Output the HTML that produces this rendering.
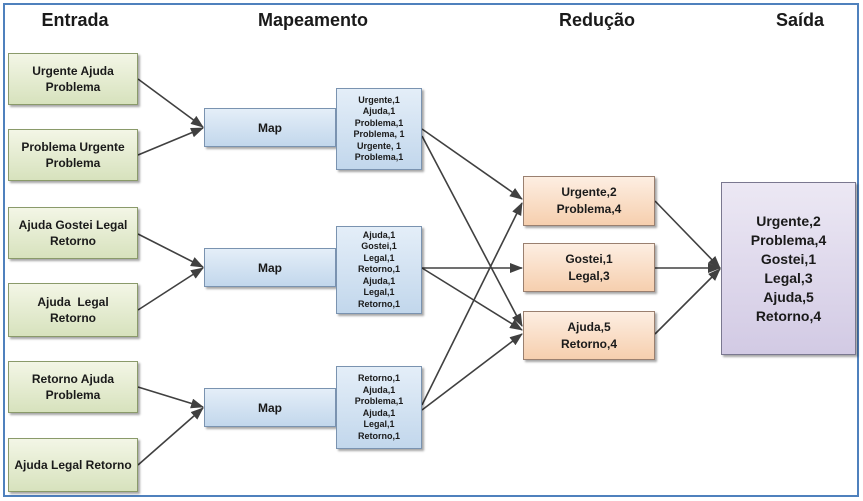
<!DOCTYPE html>
<html><head><meta charset="utf-8"><style>
body{margin:0;width:863px;height:501px;background:#fff;font-family:"Liberation Sans",sans-serif;position:relative;overflow:hidden}
.f{position:absolute;left:3px;top:3px;width:852px;height:490px;border:2px solid #4f81bd}
.b{position:absolute;box-sizing:border-box;display:flex;align-items:center;justify-content:center;text-align:center;font-weight:bold;color:#1a1a1a;box-shadow:2px 2px 2px rgba(0,0,0,.35)}
.i{left:8px;width:130px;font-size:12px;line-height:16px;background:linear-gradient(#f3f6e6,#d7e2bd);border:1px solid #8a9a6a}
.m{left:204px;width:132px;height:39px;font-size:12px;background:linear-gradient(#e4eef8,#c2d7ec);border:1px solid #7a93b0}
.l{left:336px;width:86px;font-size:9px;line-height:11.5px;background:linear-gradient(#e4eef8,#c2d7ec);border:1px solid #7a93b0}
.r{left:523px;width:132px;font-size:12px;line-height:17px;background:linear-gradient(#fdeee2,#f6cfae);border:1px solid #9a8070}
.o{left:721px;top:182px;width:135px;height:173px;font-size:14px;line-height:19px;background:linear-gradient(#ece8f4,#d2cae4);border:1px solid #7a7890}
.t{position:absolute;top:10px;font-size:18px;font-weight:bold;color:#1a1a1a;transform:translateX(-50%)}
svg{position:absolute;left:0;top:0}
</style></head><body>
<div class="f"></div>
<div class="t" style="left:75px">Entrada</div>
<div class="t" style="left:313px">Mapeamento</div>
<div class="t" style="left:597px">Redução</div>
<div class="t" style="left:800px">Saída</div>
<svg width="863" height="501"><defs><marker id="a" markerWidth="13" markerHeight="10" refX="12" refY="5" orient="auto" markerUnits="userSpaceOnUse"><path d="M0,0L13,5L0,10z" fill="#404040"/></marker></defs>
<g stroke="#404040" stroke-width="1.6" marker-end="url(#a)">
<line x1="138" y1="79" x2="203" y2="127"/><line x1="138" y1="155" x2="203" y2="128"/>
<line x1="138" y1="234" x2="203" y2="267"/><line x1="138" y1="310" x2="203" y2="268"/>
<line x1="138" y1="387" x2="203" y2="407"/><line x1="138" y1="465" x2="203" y2="408"/>
<line x1="422" y1="129" x2="522" y2="199"/><line x1="422" y1="136" x2="522" y2="326"/>
<line x1="422" y1="268" x2="522" y2="268"/><line x1="422" y1="268" x2="522" y2="330"/>
<line x1="422" y1="405" x2="522" y2="203"/><line x1="422" y1="410" x2="522" y2="334"/>
<line x1="655" y1="201" x2="720" y2="268"/><line x1="655" y1="268" x2="720" y2="268"/><line x1="655" y1="334" x2="720" y2="269"/>
</g></svg>
<div class="b i" style="top:53px;height:52px">Urgente Ajuda<br>Problema</div>
<div class="b i" style="top:129px;height:52px">Problema Urgente<br>Problema</div>
<div class="b i" style="top:207px;height:52px">Ajuda Gostei Legal<br>Retorno</div>
<div class="b i" style="top:283px;height:54px">Ajuda&nbsp; Legal<br>Retorno</div>
<div class="b i" style="top:361px;height:52px">Retorno Ajuda<br>Problema</div>
<div class="b i" style="top:438px;height:54px">Ajuda Legal Retorno</div>
<div class="b m" style="top:108px">Map</div>
<div class="b m" style="top:248px">Map</div>
<div class="b m" style="top:388px">Map</div>
<div class="b l" style="top:88px;height:82px">Urgente,1<br>Ajuda,1<br>Problema,1<br>Problema, 1<br>Urgente, 1<br>Problema,1</div>
<div class="b l" style="top:226px;height:88px">Ajuda,1<br>Gostei,1<br>Legal,1<br>Retorno,1<br>Ajuda,1<br>Legal,1<br>Retorno,1</div>
<div class="b l" style="top:366px;height:83px">Retorno,1<br>Ajuda,1<br>Problema,1<br>Ajuda,1<br>Legal,1<br>Retorno,1</div>
<div class="b r" style="top:176px;height:50px">Urgente,2<br>Problema,4</div>
<div class="b r" style="top:243px;height:49px">Gostei,1<br>Legal,3</div>
<div class="b r" style="top:311px;height:49px">Ajuda,5<br>Retorno,4</div>
<div class="b o">Urgente,2<br>Problema,4<br>Gostei,1<br>Legal,3<br>Ajuda,5<br>Retorno,4</div>
</body></html>
